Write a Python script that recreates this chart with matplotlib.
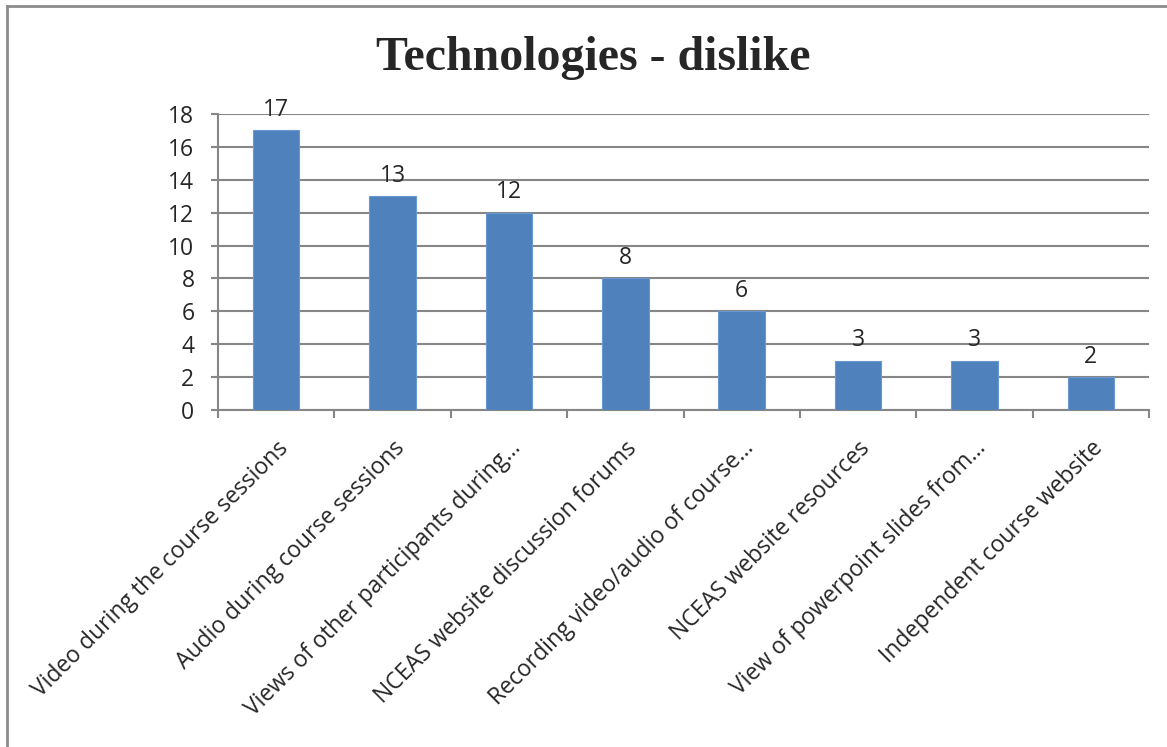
import matplotlib.pyplot as plt
import numpy as np
from matplotlib.lines import Line2D

categories = [
    "Video during the course sessions",
    "Audio during course sessions",
    "Views of other participants during\u2026",
    "NCEAS website discussion forums",
    "Recording video/audio of course\u2026",
    "NCEAS website resources",
    "View of powerpoint slides from\u2026",
    "Independent course website",
]
counts = [17, 13, 12, 8, 6, 3, 3, 2]
yticks = [0, 2, 4, 6, 8, 10, 12, 14, 16, 18]

bar_color = "#4F81BD"
grid_color = "#868686"
text_color = "#262626"

plt.rcParams["font.family"] = ["Open Sans", "DejaVu Sans"]

fig = plt.figure(figsize=(11.67, 7.47), dpi=100)
ax = fig.add_axes([218 / 1167, 1 - 410 / 747, (1149 - 218) / 1167, (410 - 114) / 747])

x = np.arange(len(categories))
bars = ax.bar(x, counts, width=0.4, color=bar_color, edgecolor="#6a98d0", linewidth=0.8, zorder=3)

# value labels over each bar
for xi, v in zip(x, counts):
    ax.annotate(str(v), (xi, v), xytext=(0, 6), textcoords="offset points",
                ha="center", va="bottom", fontsize=16.5, color=text_color)

ax.set_xlim(-0.5, len(categories) - 0.5)
ax.set_ylim(0, 18)
ax.set_yticks(yticks)
ax.tick_params(axis="y", length=5, width=1.5, color=grid_color, labelsize=16.5,
               labelcolor=text_color, pad=12)
ax.yaxis.grid(True, color=grid_color, linewidth=1.5, zorder=0)
ax.set_axisbelow(True)

# category boundaries carry the x ticks
ax.set_xticks(np.arange(-0.5, len(categories)), minor=False)
ax.set_xticklabels([])
ax.tick_params(axis="x", length=6, width=1.5, color=grid_color)
ax.set_xticks(x, minor=True)
ax.set_xticklabels(categories, minor=True, rotation=45, ha="right",
                   rotation_mode="anchor", fontsize=16.5, color=text_color)
ax.tick_params(axis="x", which="minor", length=0, pad=19)

for side in ["top", "right"]:
    ax.spines[side].set_visible(False)
for side in ["left", "bottom"]:
    ax.spines[side].set_color(grid_color)
    ax.spines[side].set_linewidth(1.5)

fig.text(593 / 1167, 1 - 58 / 747, "Technologies - dislike", ha="center", va="center",
         fontsize=34.5, fontweight="bold", family="Liberation Serif", color=text_color)

# chart frame (left and top edges only)
fig.add_artist(Line2D([7 / 1167, 7 / 1167], [0, 1 - 6 / 747], transform=fig.transFigure,
                      color="#8c8c8c", linewidth=2))
fig.add_artist(Line2D([7 / 1167, 1], [1 - 6 / 747, 1 - 6 / 747], transform=fig.transFigure,
                      color="#8c8c8c", linewidth=2))

fig.savefig("out.png", dpi=100)
